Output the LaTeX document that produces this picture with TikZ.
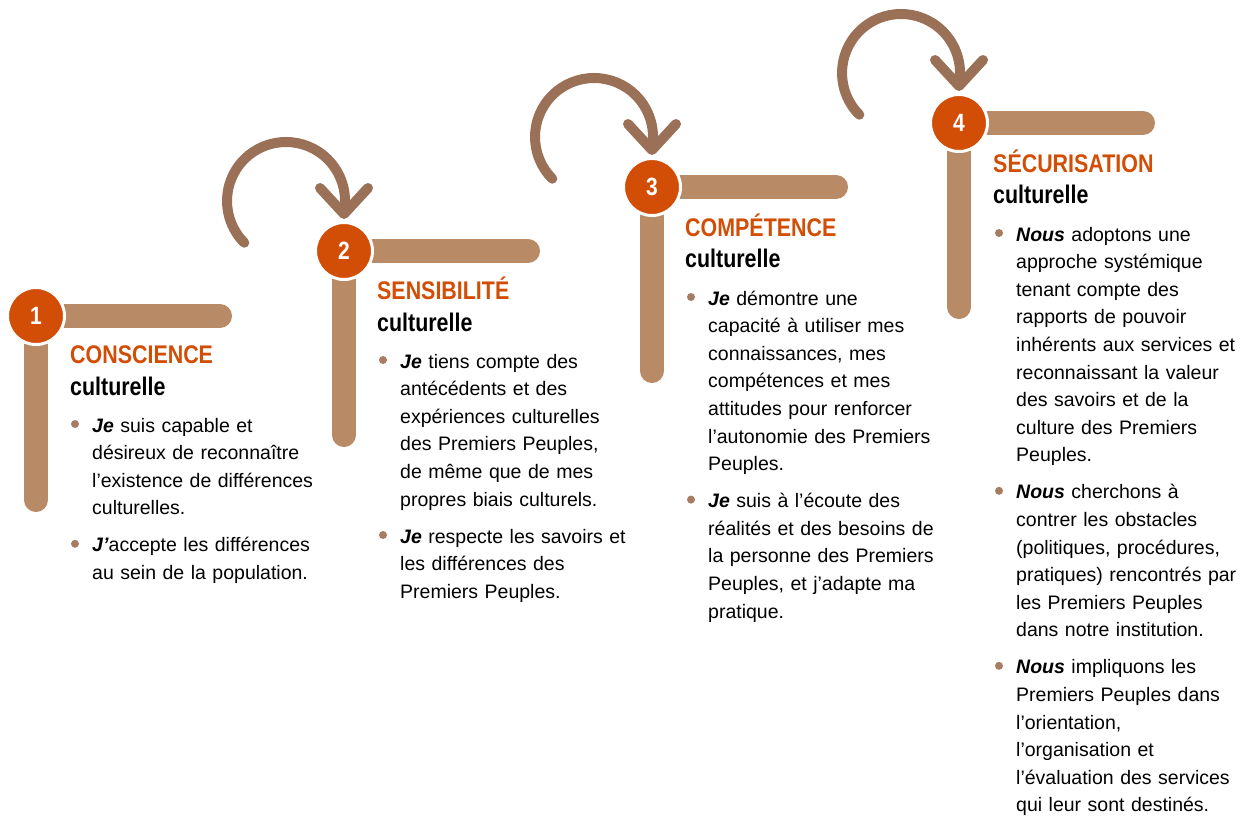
\documentclass[tikz,border=0pt]{standalone}
\usepackage{fontspec}
\setmainfont{Liberation Sans}
\newfontfamily\headfont{Liberation Sans}[FakeStretch=0.84]
\definecolor{stepor}{RGB}{210,78,6}
\definecolor{bartan}{RGB}{185,138,102}
\definecolor{turnbr}{RGB}{154,112,86}
\definecolor{dotbr}{RGB}{166,124,98}
\tikzset{
  bar/.style={draw=bartan, line width=24pt, line cap=round},
  turn/.style={draw=turnbr, line width=10pt, line cap=round, line join=round},
  num/.style={circle, fill=stepor, draw=white, line width=3pt, minimum size=57pt, inner sep=0pt,
    text=white, font=\headfont\bfseries\fontsize{25}{25}\selectfont},
  steptitle/.style={anchor=base west, inner sep=0pt, text=stepor,
    font=\headfont\bfseries\fontsize{25.5}{26}\selectfont},
  culture/.style={anchor=base west, inner sep=0pt,
    font=\headfont\bfseries\fontsize{25.5}{26}\selectfont},
  body/.style={anchor=base west, inner sep=0pt, text width=250pt, align=left,
    font=\fontsize{19.5}{27.6}\selectfont},
}
\newcommand{\who}[1]{\textbf{\textit{#1}}}

\begin{document}
\begin{tikzpicture}[x=1pt, y=-1pt]
\useasboundingbox (0,0) rectangle (1246,815);
\coordinate (p1) at (36,316);
\coordinate (p2) at (344,251);
\coordinate (p3) at (652,187);
\coordinate (p4) at (959,123);

% turning arrows
\draw[turn] (p2) ++(-99.7,-8.3) arc[start angle=135, end angle=370, radius=59];
\draw[turn] (p2) ++(-24,-63) -- ++(24,26) -- ++(24,-26);
\draw[turn] (p3) ++(-99.7,-8.3) arc[start angle=135, end angle=370, radius=59];
\draw[turn] (p3) ++(-24,-63) -- ++(24,26) -- ++(24,-26);
\draw[turn] (p4) ++(-99.7,-8.3) arc[start angle=135, end angle=370, radius=59];
\draw[turn] (p4) ++(-24,-63) -- ++(24,26) -- ++(24,-26);

% bars
\draw[bar] (p1) -- ++(184,0);
\draw[bar] (p1) -- ++(0,184);
\draw[bar] (p2) -- ++(184,0);
\draw[bar] (p2) -- ++(0,184);
\draw[bar] (p3) -- ++(184,0);
\draw[bar] (p3) -- ++(0,184);
\draw[bar] (p4) -- ++(184,0);
\draw[bar] (p4) -- ++(0,184);

\node[num] (s1) at (p1) {1};
\node[num] (s2) at (p2) {2};
\node[num] (s3) at (p3) {3};
\node[num] (s4) at (p4) {4};

% step 1
\node[steptitle] (t1) at (70,363) {CONSCIENCE};
\node[culture] (c1) at (70,395) {culturelle};
\node[body] (b1a) at (92,432) {\who{Je} suis capable et\\désireux de reconnaître\\l’existence de différences\\culturelles.};
\node[body] (b1b) at (92,551.8) {\who{J’}accepte les différences\\au sein de la population.};
\fill[dotbr] (b1a.base west) ++(-17,-8) circle (4);
\fill[dotbr] (b1b.base west) ++(-17,-8) circle (4);

% step 2
\node[steptitle] (t2) at (377,299) {SENSIBILITÉ};
\node[culture] (c2) at (377,331) {culturelle};
\node[body] (b2a) at (400,368) {\who{Je} tiens compte des\\antécédents et des\\expériences culturelles\\des Premiers Peuples,\\de même que de mes\\propres biais culturels.};
\node[body] (b2b) at (400,543) {\who{Je} respecte les savoirs et\\les différences des\\Premiers Peuples.};
\fill[dotbr] (b2a.base west) ++(-17,-8) circle (4);
\fill[dotbr] (b2b.base west) ++(-17,-8) circle (4);

% step 3
\node[steptitle] (t3) at (685,236) {COMPÉTENCE};
\node[culture] (c3) at (685,267) {culturelle};
\node[body] (b3a) at (708,305) {\who{Je} démontre une\\capacité à utiliser mes\\connaissances, mes\\compétences et mes\\attitudes pour renforcer\\l’autonomie des Premiers\\Peuples.};
\node[body] (b3b) at (708,507.6) {\who{Je} suis à l’écoute des\\réalités et des besoins de\\la personne des Premiers\\Peuples, et j’adapte ma\\pratique.};
\fill[dotbr] (b3a.base west) ++(-17,-8) circle (4);
\fill[dotbr] (b3b.base west) ++(-17,-8) circle (4);

% step 4
\node[steptitle] (t4) at (993,172) {SÉCURISATION};
\node[culture] (c4) at (993,203) {culturelle};
\node[body] (b4a) at (1016,241) {\who{Nous} adoptons une\\approche systémique\\tenant compte des\\rapports de pouvoir\\inhérents aux services et\\reconnaissant la valeur\\des savoirs et de la\\culture des Premiers\\Peuples.};
\node[body] (b4b) at (1016,498.8) {\who{Nous} cherchons à\\contrer les obstacles\\(politiques, procédures,\\pratiques) rencontrés par\\les Premiers Peuples\\dans notre institution.};
\node[body] (b4c) at (1016,673.8) {\who{Nous} impliquons les\\Premiers Peuples dans\\l’orientation,\\l’organisation et\\l’évaluation des services\\qui leur sont destinés.};
\fill[dotbr] (b4a.base west) ++(-17,-8) circle (4);
\fill[dotbr] (b4b.base west) ++(-17,-8) circle (4);
\fill[dotbr] (b4c.base west) ++(-17,-8) circle (4);
\end{tikzpicture}
\end{document}
